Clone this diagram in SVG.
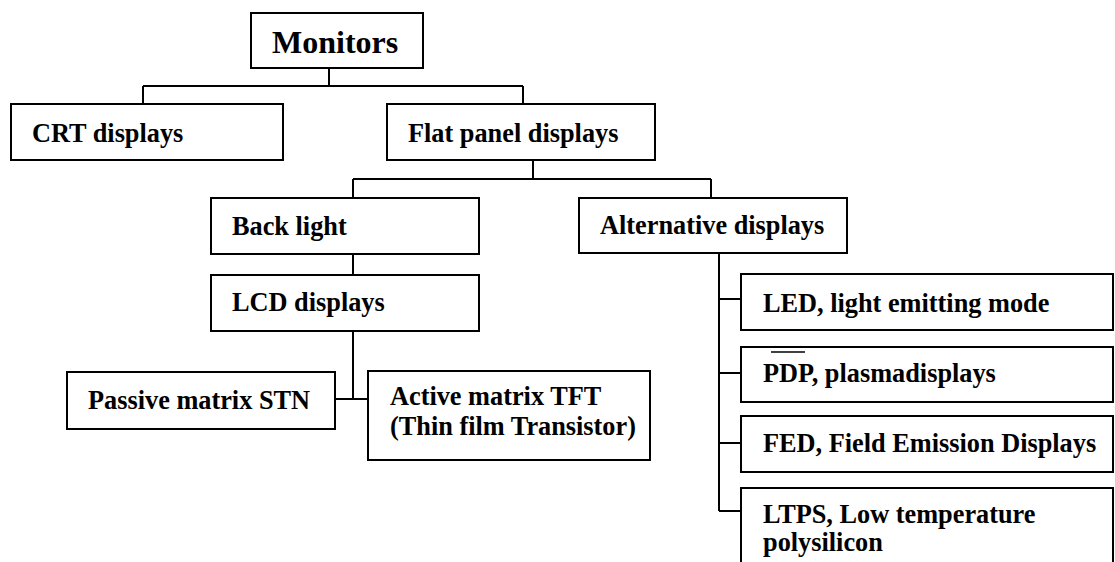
<svg xmlns="http://www.w3.org/2000/svg" width="1115" height="562" viewBox="0 0 1115 562">
  <style>
    .box { fill: #ffffff; stroke: #000000; stroke-width: 2; }
    .lbl { font-family: "Liberation Serif", "Times New Roman", serif; font-weight: bold; font-size: 26.3px; fill: #000000; }
    .title { font-size: 32px; }
    .wire { fill: none; stroke: #000000; stroke-width: 2; }
  </style>
  <rect width="1115" height="562" fill="#ffffff"/>

  <!-- tree connectors -->
  <g id="connectors" class="wire">
    <path d="M329 68 V86 M143 86 H523 M143 86 V104 M523 86 V104"/>
    <path d="M533 160 V179 M353 179 H711 M353 179 V198 M711 179 V198"/>
    <path d="M353 254 V275"/>
    <path d="M353 331 V399 M335 399 H368"/>
    <path d="M719 253 V511 M719 299 H741 M719 373 H741 M719 443 H741 M719 511 H741"/>
  </g>

  <g id="monitors">
    <rect class="box" x="251" y="13" width="172" height="55"/>
    <text class="lbl title" x="272" y="53">Monitors</text>
  </g>
  <g id="crt">
    <rect class="box" x="11" y="104" width="272" height="56"/>
    <text class="lbl" x="32" y="142">CRT displays</text>
  </g>
  <g id="flat-panel">
    <rect class="box" x="387" y="104" width="268" height="56"/>
    <text class="lbl" x="408" y="142">Flat panel displays</text>
  </g>
  <g id="back-light">
    <rect class="box" x="211" y="198" width="268" height="56"/>
    <text class="lbl" x="232" y="235">Back light</text>
  </g>
  <g id="alternative">
    <rect class="box" x="579" y="198" width="268" height="55"/>
    <text class="lbl" x="600" y="234">Alternative displays</text>
  </g>
  <g id="lcd">
    <rect class="box" x="211" y="275" width="268" height="56"/>
    <text class="lbl" x="232" y="311">LCD displays</text>
  </g>
  <g id="passive">
    <rect class="box" x="67" y="372" width="268" height="57"/>
    <text class="lbl" x="88" y="409">Passive matrix STN</text>
  </g>
  <g id="active">
    <rect class="box" x="368" y="371" width="282" height="89"/>
    <text class="lbl" x="390" y="405">Active matrix TFT</text>
    <text class="lbl" x="390" y="435">(Thin film Transistor)</text>
  </g>
  <g id="led">
    <rect class="box" x="741" y="274" width="372" height="56"/>
    <text class="lbl" x="763" y="312">LED, light emitting mode</text>
  </g>
  <g id="pdp">
    <rect class="box" x="741" y="347" width="372" height="55"/>
    <text class="lbl" x="763" y="382">PDP, plasmadisplays</text>
    <line x1="771" y1="352" x2="805" y2="352" stroke="#000000" stroke-width="1.5"/>
  </g>
  <g id="fed">
    <rect class="box" x="741" y="416" width="372" height="56"/>
    <text class="lbl" x="763" y="452">FED, Field Emission Displays</text>
  </g>
  <g id="ltps">
    <path class="box" d="M741 570 V488 H1113 V570"/>
    <text class="lbl" x="763" y="523">LTPS, Low temperature</text>
    <text class="lbl" x="763" y="551">polysilicon</text>
  </g>
</svg>
